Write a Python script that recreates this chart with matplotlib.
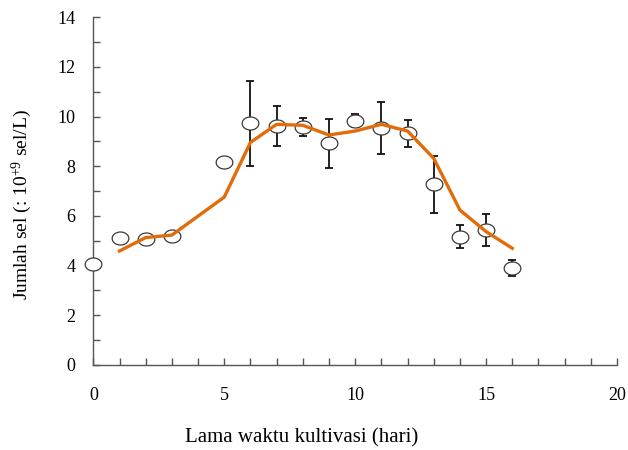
import numpy as np
import matplotlib
matplotlib.use("Agg")
import matplotlib.pyplot as plt
from matplotlib.path import Path

plt.rcParams['font.family'] = ['Liberation Serif', 'DejaVu Serif']
plt.rcParams['mathtext.fontset'] = 'custom'
plt.rcParams['mathtext.rm'] = 'Liberation Serif'
plt.rcParams['mathtext.it'] = 'Liberation Serif'

# Observed cell counts (mean +/- sd)
obs_days = [0, 1, 2, 3, 5, 6, 7, 8, 9, 10, 11, 12, 13, 14, 15, 16]
obs_count = [4.05, 5.13, 5.07, 5.2, 8.18, 9.73, 9.63, 9.59, 8.92, 9.84,
             9.53, 9.33, 7.27, 5.17, 5.43, 3.9]
obs_err = [0, 0, 0, 0, 0, 1.72, 0.81, 0.37, 1.0, 0.27,
           1.05, 0.55, 1.15, 0.46, 0.65, 0.33]

# Fitted curve
fit_days = [1, 2, 3, 5, 6, 7, 8, 9, 10, 11, 12, 13, 14, 15, 16]
fit_count = [4.59, 5.13, 5.23, 6.76, 8.96, 9.69, 9.65, 9.26, 9.42, 9.69,
             9.42, 8.32, 6.24, 5.37, 4.70]

x_ticklabels = {0: '0', 5: '5', 10: '10', 15: '15', 20: '20'}
y_ticklabels = {0: '0', 2: '2', 4: '4', 6: '6', 8: '8', 10: '10', 12: '12', 14: '14'}

fig = plt.figure(figsize=(6.28, 4.5), dpi=100)
ax = fig.add_axes([0.1486, 0.1889, 0.8339, 0.7727])

# slightly flattened open circle marker
t = np.linspace(0, 2 * np.pi, 60)
ellipse = Path(np.column_stack([np.cos(t), 0.78 * np.sin(t)]), closed=True)

err_x = [d for d, e in zip(obs_days, obs_err) if e > 0]
err_y = [c for c, e in zip(obs_count, obs_err) if e > 0]
err_v = [e for e in obs_err if e > 0]
ax.errorbar(err_x, err_y, yerr=err_v, fmt='none', ecolor='#111111',
            elinewidth=1.3, capsize=3, capthick=1.3, zorder=2)
ax.plot(obs_days, obs_count, linestyle='none', marker=ellipse, markersize=12,
        markerfacecolor='white', markeredgecolor='#3a3a3a', markeredgewidth=0.9,
        zorder=3, clip_on=False)
ax.plot(fit_days, fit_count, color='#E36C0A', linewidth=2.4, zorder=4,
        solid_joinstyle='round')

ax.set_xlim(0, 20)
ax.set_ylim(0, 14)
ax.set_xticks(range(0, 21))
ax.set_xticklabels([x_ticklabels.get(v, '') for v in range(0, 21)])
ax.set_yticks(range(0, 15))
ax.set_yticklabels([y_ticklabels.get(v, '') for v in range(0, 15)])
ax.tick_params(axis='both', direction='in', length=5, width=1, color='#555555',
               labelsize=13, labelcolor='black')
ax.tick_params(axis='x', pad=16)
ax.tick_params(axis='y', pad=13)

for side in ('top', 'right'):
    ax.spines[side].set_visible(False)
for side in ('left', 'bottom'):
    ax.spines[side].set_color('#555555')
    ax.spines[side].set_linewidth(1.0)

fig.text(302 / 628, 1 - 438 / 450, 'Lama waktu kultivasi (hari)',
         ha='center', va='center', fontsize=15)
fig.text(22 / 628, 1 - 205 / 450, 'Jumlah sel (: 10$^{+9}$ sel/L)',
         ha='center', va='center', rotation=90, fontsize=14)

fig.savefig('out.png', dpi=100)
